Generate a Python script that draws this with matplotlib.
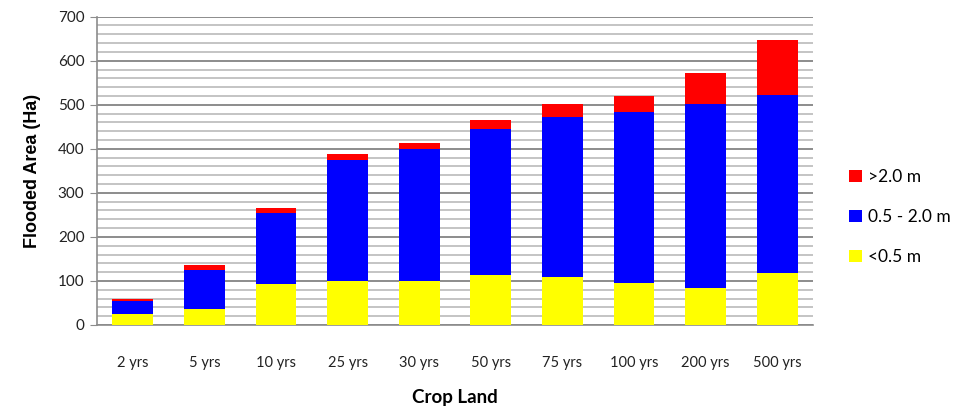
import numpy as np
import matplotlib.pyplot as plt
from matplotlib.ticker import MultipleLocator

plt.rcParams['font.family'] = ['Lato', 'DejaVu Sans']

periods = ['2 yrs', '5 yrs', '10 yrs', '25 yrs', '30 yrs', '50 yrs',
           '75 yrs', '100 yrs', '200 yrs', '500 yrs']
shallow = [26, 36, 93, 100, 100, 114, 108, 96, 83, 117]       # <0.5 m
medium = [28, 89, 162, 275, 299, 331, 365, 387, 418, 406]     # 0.5 - 2.0 m
deep = [6, 11, 11, 13, 14, 21, 28, 36, 71, 123]                # >2.0 m

fig = plt.figure(figsize=(9.62, 4.13), dpi=100)
ax = fig.add_axes([0.1008, 0.2131, 0.7443, 0.7465])

x = np.arange(len(periods))
w = 0.57
shallow = np.array(shallow)
medium = np.array(medium)
deep = np.array(deep)

b1 = ax.bar(x, shallow, w, color='#ffff00', label='<0.5 m', zorder=3)
b2 = ax.bar(x, medium, w, bottom=shallow, color='#0000ff', label='0.5 - 2.0 m', zorder=3)
b3 = ax.bar(x, deep, w, bottom=shallow + medium, color='#ff0000', label='>2.0 m', zorder=3)

ax.set_xlim(-0.5, len(periods) - 0.5)
ax.set_ylim(0, 700)
ax.yaxis.set_major_locator(MultipleLocator(100))
ax.yaxis.set_minor_locator(MultipleLocator(20))
ax.grid(axis='y', which='major', color='#8c8c8c', linewidth=1.4, zorder=0)
ax.grid(axis='y', which='minor', color='#c4c4c4', linewidth=1.4, zorder=0)

for s in ['top', 'right']:
    ax.spines[s].set_visible(False)
for s in ['left', 'bottom']:
    ax.spines[s].set_color('#8c8c8c')
    ax.spines[s].set_linewidth(1.2)

ax.set_xticks(x)
ax.set_xticklabels(periods)
ax.tick_params(axis='x', length=0, pad=22, labelsize=10.5, labelcolor='#222222')
ax.tick_params(axis='y', which='major', length=5, color='#8c8c8c', labelsize=11,
               labelcolor='#222222', pad=4)
ax.tick_params(axis='y', which='minor', length=0)

ax.set_ylabel('Flooded Area (Ha)', fontsize=13, fontweight='bold', labelpad=12,
              family=['Liberation Sans', 'DejaVu Sans'])
ax.set_xlabel('Crop Land', fontsize=13.5, fontweight='bold', labelpad=14)

ax.legend(handles=[b3, b2, b1], loc='center left', bbox_to_anchor=(1.029, 0.35),
          frameon=False, fontsize=12.5, handlelength=0.7, handleheight=0.7,
          labelspacing=1.4, handletextpad=0.4)

fig.savefig('out.png', dpi=100)
